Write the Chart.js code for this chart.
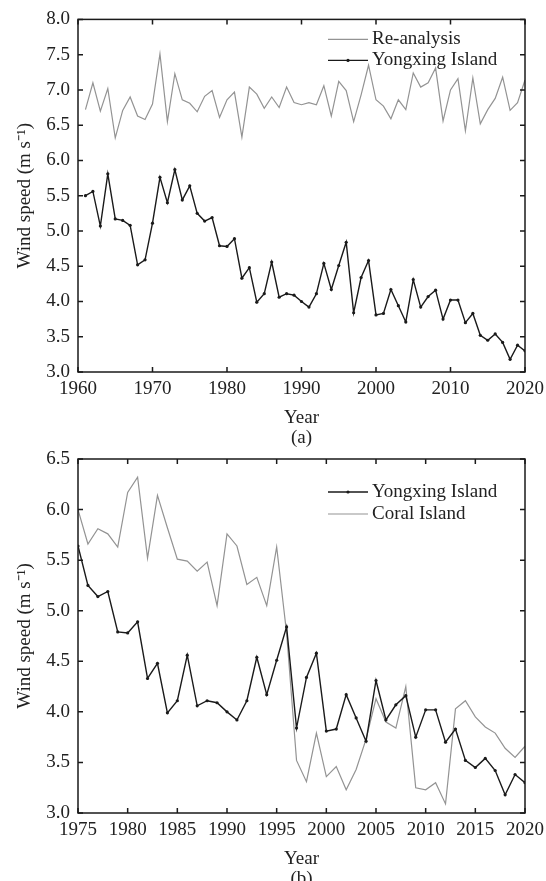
<!DOCTYPE html>
<html lang="en">
<head>
  <meta charset="UTF-8">
  <title>Wind speed, Yongxing Island</title>
  <script src="https://cdn.jsdelivr.net/npm/chart.js"></script>
  <style>
    html, body { margin: 0; padding: 0; background: #fff; overflow: hidden; }
    #wrap { position: relative; width: 546px; height: 881px; overflow: hidden; }
    canvas { position: absolute; left: 0; }
    #chartA { top: 0; }
    #chartB { top: 430px; }
  </style>
</head>
<body>
<div id="wrap">
  <canvas id="chartA" width="546" height="460"></canvas>
  <canvas id="chartB" width="546" height="470"></canvas>
</div>

<script>
  // Annual mean wind speed (m/s)
  const yearsA = [];
  for (let y = 1961; y <= 2020; y++) yearsA.push(y);

  const reanalysis = [
    6.72, 7.10, 6.70, 7.02, 6.32, 6.71, 6.90, 6.63, 6.58, 6.80,
    7.51, 6.55, 7.23, 6.86, 6.81, 6.69, 6.91, 6.99, 6.61, 6.86,
    6.97, 6.33, 7.04, 6.94, 6.74, 6.90, 6.75, 7.04, 6.82, 6.79,
    6.82, 6.79, 7.06, 6.63, 7.12, 6.99, 6.55, 6.93, 7.35, 6.86,
    6.77, 6.59, 6.86, 6.72, 7.24, 7.04, 7.10, 7.31, 6.56, 7.00,
    7.16, 6.42, 7.17, 6.52, 6.72, 6.88, 7.18, 6.71, 6.82, 7.14
  ];

  const yongxing = [
    5.50, 5.56, 5.07, 5.81, 5.17, 5.15, 5.08, 4.52, 4.59, 5.11,
    5.76, 5.40, 5.87, 5.44, 5.64, 5.25, 5.14, 5.19, 4.79, 4.78,
    4.89, 4.33, 4.48, 3.99, 4.11, 4.56, 4.06, 4.11, 4.09, 4.00,
    3.92, 4.11, 4.54, 4.17, 4.51, 4.84, 3.84, 4.34, 4.58, 3.81,
    3.83, 4.17, 3.94, 3.71, 4.31, 3.92, 4.07, 4.16, 3.75, 4.02,
    4.02, 3.70, 3.83, 3.52, 3.45, 3.54, 3.42, 3.18, 3.38, 3.30
  ];

  const yearsB = yearsA.filter(y => y >= 1975);

  const coral = [
    6.00, 5.66, 5.81, 5.76, 5.63, 6.17, 6.32, 5.52, 6.14, 5.82,
    5.51, 5.49, 5.39, 5.48, 5.05, 5.76, 5.64, 5.26, 5.33, 5.05,
    5.63, 4.78, 3.52, 3.31, 3.79, 3.36, 3.46, 3.23, 3.43, 3.73,
    4.13, 3.90, 3.84, 4.25, 3.25, 3.23, 3.30, 3.09, 4.03, 4.11,
    3.95, 3.85, 3.79, 3.64, 3.55, 3.66
  ];

  const GRAY = '#939393';
  const BLACK = '#1a1a1a';
  const TEXT = '#222';
  const FONT = 'Liberation Serif';

  Chart.defaults.font.family = FONT;
  Chart.defaults.font.size = 19;
  Chart.defaults.color = TEXT;

  function toPoints(years, values) {
    return years.map((yr, i) => ({ x: yr, y: values[i] }));
  }

  // box around the plot with inward ticks on all four sides
  const framePlugin = {
    id: 'frame',
    afterDraw(chart) {
      const { ctx, chartArea: a, scales } = chart;
      const len = 5;
      ctx.save();
      ctx.strokeStyle = BLACK;
      ctx.lineWidth = 1.5;
      ctx.strokeRect(a.left, a.top, a.right - a.left, a.bottom - a.top);
      ctx.beginPath();
      scales.x.ticks.forEach(t => {
        const px = scales.x.getPixelForValue(t.value);
        ctx.moveTo(px, a.bottom); ctx.lineTo(px, a.bottom - len);
        ctx.moveTo(px, a.top); ctx.lineTo(px, a.top + len);
      });
      scales.y.ticks.forEach(t => {
        const py = scales.y.getPixelForValue(t.value);
        ctx.moveTo(a.left, py); ctx.lineTo(a.left + len, py);
        ctx.moveTo(a.right, py); ctx.lineTo(a.right - len, py);
      });
      ctx.stroke();
      ctx.restore();
    }
  };

  // legend drawn inside the top right corner of the plot
  const insideLegend = {
    id: 'insideLegend',
    afterDraw(chart, args, opts) {
      const { ctx, chartArea: a } = chart;
      ctx.save();
      ctx.font = '19px "' + FONT + '"';
      ctx.textBaseline = 'middle';
      chart.data.datasets.forEach((ds, i) => {
        const y = a.top + opts.rows[i];
        const x0 = a.right - 197, x1 = a.right - 157;
        ctx.strokeStyle = ds.borderColor;
        ctx.lineWidth = ds.borderWidth;
        ctx.beginPath();
        ctx.moveTo(x0, y);
        ctx.lineTo(x1, y);
        ctx.stroke();
        if (ds.pointRadius) {
          ctx.fillStyle = ds.borderColor;
          ctx.beginPath();
          ctx.arc((x0 + x1) / 2, y, ds.pointRadius, 0, Math.PI * 2);
          ctx.fill();
        }
        ctx.fillStyle = TEXT;
        ctx.fillText(ds.label, x1 + 4, y);
      });
      ctx.restore();
    }
  };

  function yongxingSet(years) {
    return {
      label: 'Yongxing Island',
      data: toPoints(years, yongxing.slice(yongxing.length - years.length)),
      borderColor: BLACK,
      backgroundColor: BLACK,
      borderWidth: 1.4,
      pointRadius: 1.6,
      pointBorderWidth: 0,
      pointBackgroundColor: BLACK
    };
  }

  function graySet(label, years, values) {
    return {
      label: label,
      data: toPoints(years, values),
      borderColor: GRAY,
      borderWidth: 1.2,
      pointRadius: 0
    };
  }

  function makeOptions(o) {
    return {
      responsive: false,
      animation: false,
      layout: { padding: { top: o.padTop, right: 21, left: 0, bottom: 0 } },
      elements: { line: { tension: 0 } },
      plugins: {
        legend: { display: false },
        tooltip: { enabled: false },
        insideLegend: { rows: o.rows }
      },
      scales: {
        x: {
          type: 'linear',
          min: o.xMin, max: 2020,
          grid: { display: false, drawTicks: false },
          border: { display: false },
          ticks: { stepSize: o.xStep, padding: 6, maxRotation: 0, autoSkip: false, callback: v => String(v) },
          title: { display: true, text: ['Year', o.tag], padding: { top: 0, bottom: o.titlePad }, font: { size: 19, lineHeight: 20 / 19 } },
          afterFit: s => {
            s.height = o.xHeight;
            s.paddingLeft = 0;
            s.paddingRight = 0;
          }
        },
        y: {
          min: 3.0, max: o.yMax,
          grid: { display: false, drawTicks: false },
          border: { display: false },
          ticks: { stepSize: 0.5, padding: 8, autoSkip: false, callback: v => v.toFixed(1) },
          title: { display: true, text: 'Wind speed (m s\u207B\u00B9)', padding: { top: 14, bottom: 0 } },
          afterFit: s => { s.width = 78; }
        }
      }
    };
  }

  // (a) re-analysis vs Yongxing Island, 1961-2020
  new Chart(document.getElementById('chartA'), {
    type: 'line',
    data: {
      datasets: [
        graySet('Re-analysis', yearsA, reanalysis),
        yongxingSet(yearsA)
      ]
    },
    options: makeOptions({ padTop: 17, rows: [20, 41], xMin: 1960, xStep: 10, tag: '(a)', titlePad: 12, xHeight: 88, yMax: 8.0 }),
    plugins: [framePlugin, insideLegend]
  });

  // (b) Yongxing Island vs Coral Island, 1975-2020
  new Chart(document.getElementById('chartB'), {
    type: 'line',
    data: {
      datasets: [
        yongxingSet(yearsB),
        graySet('Coral Island', yearsB, coral)
      ]
    },
    options: makeOptions({ padTop: 29, rows: [33, 55], xMin: 1975, xStep: 5, tag: '(b)', titlePad: 11, xHeight: 87, yMax: 6.5 }),
    plugins: [framePlugin, insideLegend]
  });
</script>
</body>
</html>
